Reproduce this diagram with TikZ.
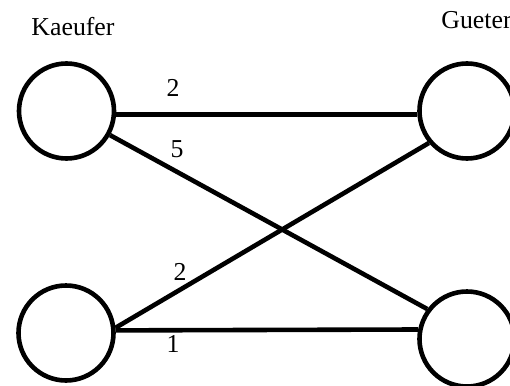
\documentclass[tikz,border=0pt]{standalone}
\usepackage{fontspec}
\setmainfont{Liberation Serif}
\begin{document}
\begin{tikzpicture}[x=0.5pt,y=-0.5pt,
  vertex/.style={circle,draw,line width=2.3pt,minimum size=47.5pt,inner sep=0pt},
  edge/.style={line width=2.3pt},
  weight/.style={anchor=base,inner sep=0pt,font=\fontsize{12.9pt}{15pt}\selectfont},
  heading/.style={inner sep=0pt,font=\fontsize{12.9pt}{15pt}\selectfont}]
  \useasboundingbox (0,0) rectangle (510,386);
  % buyers (left) and goods (right)
  \node[vertex] (a) at (66.5,111) {};
  \node[vertex] (c) at (66,333) {};
  \node[vertex] (b) at (467,111) {};
  \node[vertex] (d) at (467,339) {};
  % column headings
  \node[heading,anchor=base] (hk) at (73,35) {Kaeufer};
  \node[heading,anchor=base west] (hg) at (441,28) {Gueter};
  % weighted edges
  \draw[edge] (a.-4) -- (b.184);
  \draw[edge] (a.-29) -- (d.143);
  \draw[edge] (c.6) -- (b.220);
  \draw[edge] (c.3) -- (d.169);
  % edge weights
  \node[weight] (w1) at (173,96) {2};
  \node[weight] (w2) at (177,157) {5};
  \node[weight] (w3) at (180,280) {2};
  \node[weight] (w4) at (173,352) {1};
\end{tikzpicture}
\end{document}
